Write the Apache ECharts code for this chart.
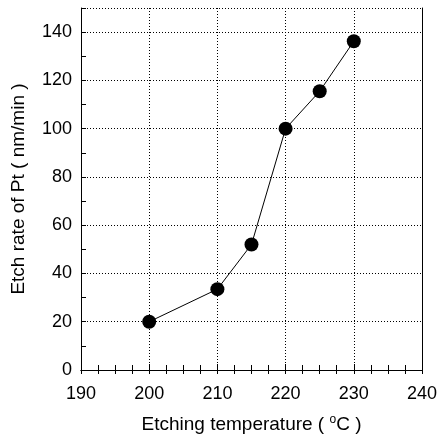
<!DOCTYPE html>
<html><head><meta charset="utf-8">
<script src="https://cdn.jsdelivr.net/npm/echarts@6/dist/echarts.min.js"></script>
<style>html,body{margin:0;padding:0;background:#fff}#c{width:440px;height:439px}</style>
</head><body><div id="c"></div>
<script>
const temperatures = [200, 210, 215, 220, 225, 230];
const etchRates = [20, 33.5, 52, 100, 115.5, 136.2];
const xRange = [190, 240];
const yRange = [0, 150];

const font = 'Liberation Sans, Arial, sans-serif';
const chart = echarts.init(document.getElementById('c'));
const tickStyle = {color: '#000', width: 1};
const gridStyle = {color: '#000', type: [1, 2], width: 1};
chart.setOption({
  animation: false,
  backgroundColor: '#fff',
  grid: {left: 81, right: 17, top: 8, bottom: 69},
  xAxis: [{
    type: 'value', min: xRange[0], max: xRange[1], interval: 10, position: 'bottom',
    axisLine: {lineStyle: {color: '#000', width: 1}},
    axisTick: {inside: true, length: 6, lineStyle: tickStyle},
    minorTick: {show: true, splitNumber: 4, length: 5, lineStyle: tickStyle},
    axisLabel: {color: '#000', fontSize: 18, fontFamily: font, margin: 15},
    splitLine: {show: true, lineStyle: gridStyle},
    name: 'Etching temperature ( {sup|o}C )', nameLocation: 'middle', nameGap: 44,
    nameTextStyle: {color: '#000', fontSize: 19, fontFamily: font,
      rich: {sup: {fontSize: 12, fontFamily: font, color: '#000', padding: [0, 0, 9, 0]}}}
  }, {
    type: 'value', min: xRange[0], max: xRange[1], interval: 10, position: 'top',
    axisLine: {lineStyle: {color: '#000', width: 1}},
    axisTick: {inside: true, length: 4, lineStyle: tickStyle},
    minorTick: {show: true, splitNumber: 4, length: 4, lineStyle: tickStyle},
    axisLabel: {show: false}, splitLine: {show: false}
  }],
  yAxis: [{
    type: 'value', min: yRange[0], max: yRange[1], interval: 10, position: 'left',
    axisLine: {show: true, lineStyle: {color: '#000', width: 1}},
    axisTick: {show: true, inside: true, length: 5, lineStyle: tickStyle},
    axisLabel: {color: '#000', fontSize: 18, fontFamily: font, margin: 9,
      formatter: v => (v % 20 === 0 && v < 150) ? String(v) : ''},
    splitLine: {show: false},
    name: 'Etch rate of Pt ( nm/min )', nameLocation: 'middle', nameGap: 53,
    nameTextStyle: {color: '#000', fontSize: 19, fontFamily: font}
  }, {
    type: 'value', min: yRange[0], max: yRange[1], interval: 20, position: 'right',
    axisLine: {show: true, lineStyle: {color: '#000', width: 1}},
    axisTick: {show: false},
    axisLabel: {show: false},
    splitLine: {show: true, lineStyle: gridStyle}
  }],
  series: [{
    type: 'line', xAxisIndex: 0, yAxisIndex: 0,
    data: temperatures.map((t, i) => [t, etchRates[i]]),
    symbol: 'circle', symbolSize: 14,
    itemStyle: {color: '#000'},
    lineStyle: {color: '#000', width: 1}
  }]
});
</script></body></html>
